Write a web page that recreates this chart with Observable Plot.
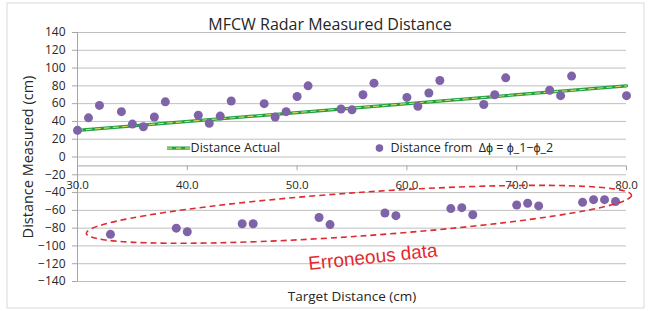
<!DOCTYPE html>
<html><head><meta charset="utf-8">
<script src="https://cdn.jsdelivr.net/npm/d3@7"></script>
<script src="https://cdn.jsdelivr.net/npm/@observablehq/plot@0.6"></script>
<style>body{margin:0;background:#fff} svg{display:block}</style>
</head><body><div id="chart"></div>
<script>
// ---- data ----
const targetDistance = [30,31,32,33,34,35,36,37,38,39,40,41,42,43,44,45,46,47,48,49,50,51,52,53,54,55,56,57,58,59,60,61,62,63,64,65,66,67,68,69,70,71,72,73,74,75,76,77,78,79,80];
const measuredDistance = [30,44,58,-87,51,37,34,45,62,-80,-84,47,38,46,63,-75,-75,60,45,51,68,80,-68,-76,54,53,70,83,-63,-66,67,57,72,86,-58,-57,-65,59,70,89,-54,-52,-55,75,69,91,-51,-48,-48,-50,69];
const actualTarget = [30, 80];
const actualDistance = [30, 80];
const xTicks = [30, 40, 50, 60, 70, 80];
const yTicks = [-140,-120,-100,-80,-60,-40,-20,0,20,40,60,80,100,120,140];
const titleText = "MFCW Radar Measured Distance";
const xLabel = "Target Distance (cm)";
const yLabel = "Distance Measured (cm)";
const seriesNames = ["Distance Actual", "Distance from  Δϕ = ϕ_1−ϕ_2"];
const noteText = "Erroneous data";

const points = targetDistance.map((t, i) => ({t, m: measuredDistance[i]}));
const actual = actualTarget.map((t, i) => ({t, m: actualDistance[i]}));

const font = "Open Sans, sans-serif";
const green = "#23a047", dashYellow = "#d9dc55", purple = "#7f63a8", red = "#e02a2f";

const chart = Plot.plot({
  width: 648, height: 311,
  marginLeft: 77, marginRight: 22, marginTop: 32, marginBottom: 30,
  style: {fontFamily: font, background: "#fff", color: "#262626"},
  x: {domain: [30, 80], axis: null},
  y: {domain: [-140, 140], axis: null},
  marks: [
    Plot.gridY(yTicks, {stroke: "#bfbfbf", strokeOpacity: 1, strokeWidth: 1}),
    Plot.ruleX([30], {y1: -140, y2: 140, stroke: "#a6a6a6"}),
    Plot.axisY(yTicks, {tickSize: 5, tickPadding: 7, fontSize: 12, stroke: "#a6a6a6", label: null, fill: "#262626"}),
    // horizontal axis crossing at -10
    Plot.ruleY([-10], {x1: 30, x2: 80, stroke: "#a6a6a6"}),
    Plot.ruleX(xTicks, {x: d => d, y1: -10, y2: -15.5, stroke: "#a6a6a6"}),
    Plot.text(xTicks, {x: d => d, y: -10, dy: 19.5, text: d => d.toFixed(1), fontSize: 11.5, fill: "#262626"}),
    // actual line
    Plot.line(actual, {x: "t", y: "m", stroke: green, strokeWidth: 3.2}),
    Plot.line(actual, {x: "t", y: "m", stroke: dashYellow, strokeWidth: 1.1, strokeDasharray: "5,4"}),
    // measured points
    Plot.dot(points, {x: "t", y: "m", r: 4.5, fill: purple, stroke: "none"}),
    // legend
    Plot.ruleY([10], {x1: 38.2, x2: 40.3, stroke: green, strokeWidth: 3.2}),
    Plot.ruleY([10], {x1: 38.2, x2: 40.3, stroke: dashYellow, strokeWidth: 1.1, strokeDasharray: "5,4"}),
    Plot.text([seriesNames[0]], {x: 40.3, y: 10, text: d => d, textAnchor: "start", fontSize: 12.5, fill: "#262626"}),
    Plot.dot([0], {x: 57.5, y: 10, r: 3.8, fill: purple}),
    Plot.text([seriesNames[1]], {x: 58.5, y: 10, text: d => d, textAnchor: "start", fontSize: 12.5, fill: "#262626"}),
    // annotation text
    Plot.text([noteText], {x: 56.9, y: -112.5, text: d => d, rotate: -6, fontSize: 19, fill: red, fontFamily: "Liberation Sans, Arial, sans-serif"}),
    // titles
    Plot.text([titleText], {frameAnchor: "top", textAnchor: "middle", dx: -22, dy: -14, text: d => d, fontSize: 16, fill: "#262626"}),
    Plot.text([xLabel], {frameAnchor: "bottom", textAnchor: "middle", dy: 19, text: d => d, fontSize: 13.5, fill: "#262626"}),
    Plot.text([yLabel], {frameAnchor: "left", textAnchor: "middle", dx: -49.5, rotate: -90, text: d => d, fontSize: 14.5, fill: "#262626"})
  ]
});

// dashed ellipse around the erroneous points, placed through the chart's scales
const sxs = chart.scale("x"), sys = chart.scale("y");
const sx = d3.scaleLinear(sxs.domain, sxs.range);
const sy = d3.scaleLinear(sys.domain, sys.range);
const tipL = [sx(30.85), sy(-86.5)], tipR = [sx(80.5), sy(-43.5)];
const cx = (tipL[0] + tipR[0]) / 2, cy = (tipL[1] + tipR[1]) / 2;
const rx = Math.hypot(tipR[0] - tipL[0], tipR[1] - tipL[1]) / 2;
const ry = Math.abs(sy(0) - sy(24.5));
const ang = Math.atan2(tipR[1] - tipL[1], tipR[0] - tipL[0]) * 180 / Math.PI;
d3.select(chart).append("ellipse")
  .attr("cx", cx).attr("cy", cy).attr("rx", rx).attr("ry", ry)
  .attr("transform", `rotate(${ang},${cx},${cy})`)
  .attr("fill", "none").attr("stroke", red).attr("stroke-width", 1.6)
  .attr("stroke-dasharray", "6,4");
// outer chart border
d3.select(chart).append("rect")
  .attr("x", 7).attr("y", 3).attr("width", 637).attr("height", 305)
  .attr("fill", "none").attr("stroke", "#d9d9d9");

document.getElementById("chart").appendChild(chart);
</script>
</body></html>
